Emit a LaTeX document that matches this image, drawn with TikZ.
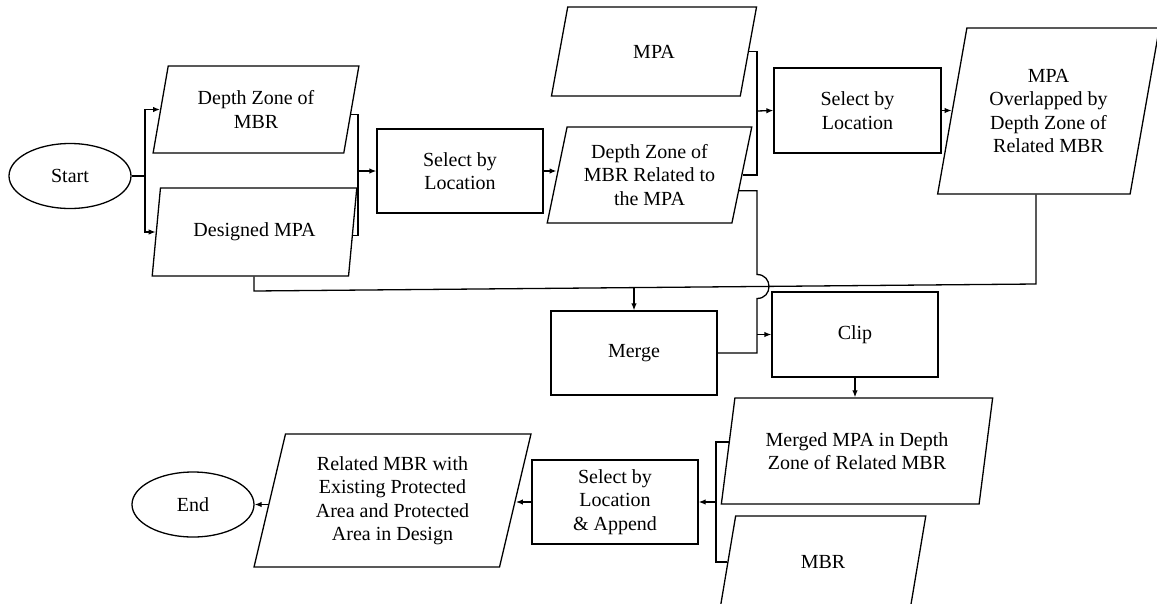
\documentclass[tikz,border=0pt]{standalone}
\usepackage{fontspec}
\setmainfont{Liberation Serif}
\newfontfamily\tnr{Liberation Serif}
\usetikzlibrary{shapes.geometric,arrows.meta}
\begin{document}
\begin{tikzpicture}[x=1pt,y=-1pt,
  every node/.style={font=\tnr\fontsize{20}{23.5}\selectfont, align=center, inner sep=2pt},
  base/.style={draw, line width=1.3pt},
  procbox/.style={base, rectangle, minimum width=166pt, minimum height=84pt},
  io/.style={base, trapezium, trapezium left angle=76, trapezium right angle=104, trapezium stretches=true},
  term/.style={base, ellipse, minimum width=122pt, minimum height=65pt},
  line/.style={line width=1.3pt},
  arr/.style={line, -{Latex[length=7pt,width=5.5pt]}}
]
\useasboundingbox (0,0) rectangle (1157,603);
\fill[white] (0,0) rectangle (1157,603);
\clip (0,0) rectangle (1157,603);

% nodes
\node[term] (start) at (70,176) {Start};
\node[io, minimum width=206pt, minimum height=87pt] (dz) at (256,109.5) {Depth Zone of\\MBR};
\node[io, minimum width=205pt, minimum height=88pt] (dm) at (254.5,232) {Designed MPA};
\node[procbox] (sel1) at (460,171) {Select by\\Location};
\node[io, minimum width=206pt, minimum height=89pt] (mpa) at (654,51.5) {MPA};
\node[io, minimum width=205pt, minimum height=96pt] (dzr) at (649.5,175) {Depth Zone of\\MBR Related to\\the MPA};
\node[procbox, minimum width=167pt, minimum height=85pt] (sel2) at (857.5,110.5) {Select by\\Location};
\node[io, minimum width=222pt, minimum height=166pt] (ov) at (1048.5,111) {MPA\\Overlapped by\\Depth Zone of\\Related MBR};
\node[procbox] (merge) at (634,353) {Merge};
\node[procbox, minimum height=85pt] (clip) at (855,334.5) {Clip};
\node[io, minimum width=272pt, minimum height=106pt] (mm) at (857,451) {Merged MPA in Depth\\Zone of Related MBR};
\node[io, minimum width=206pt, minimum height=92pt] (mbr) at (823,562) {MBR};
\node[procbox] (sel3) at (615,502) {Select by\\Location\\\& Append};
\node[io, minimum width=277pt, minimum height=133pt] (rel) at (392.5,500.5) {Related MBR with\\Existing Protected\\Area and Protected\\Area in Design};
\node[term] (end) at (193,504.5) {End};

% junction points
\coordinate (j1) at (145,176);
\coordinate (j2) at (358,171);
\coordinate (j3) at (757,111);
\coordinate (j4) at (1036,284);
\coordinate (j5) at (254,291);
\coordinate (j6) at (634,287.6);
\coordinate (k1) at (757,274.5);
\coordinate (k2) at (757,298.5);
\coordinate (j8) at (716,502);

% connectors
\draw[line] (start.east) -- (j1);
\draw[arr] (j1) |- (dz.west);
\draw[arr] (j1) |- (dm.west);
\draw[line] (dz.-3) -| (j2);
\draw[line] (dm.-2.5) -| (j2);
\draw[arr] (j2) -- (sel1.west);
\draw[arr] (sel1.east) -- (sel1.east -| dzr.west);
\draw[line] (mpa.east) -| (j3);
\draw[line] (dzr.east) -| (j3);
\draw[arr] (j3) -- (sel2.west);
\draw[arr] (sel2.east) -- (sel2.east -| ov.west);
\draw[line] (ov.south -| j4) -- (j4) -- (j5) -- (dm.south -| j5);
\draw[arr] (j6) -- (merge.north);
\draw[line] (dzr.-10.5) -| (k1) .. controls (773,274.5) and (773,298.5) .. (k2) -- (merge.east -| k2) -- (merge.east);
\draw[arr] (clip.west -| k2) -- (clip.west);
\draw[arr] (clip.south) -- (clip.south |- mm.north);
\draw[line] (mm.176.5) -| (j8);
\draw[line] (mbr.west) -| (j8);
\draw[arr] (j8) -- (sel3.east);
\draw[arr] (sel3.west) -- (sel3.west -| rel.east);
\draw[arr] (rel.west |- end.east) -- (end.east);
\end{tikzpicture}
\end{document}
